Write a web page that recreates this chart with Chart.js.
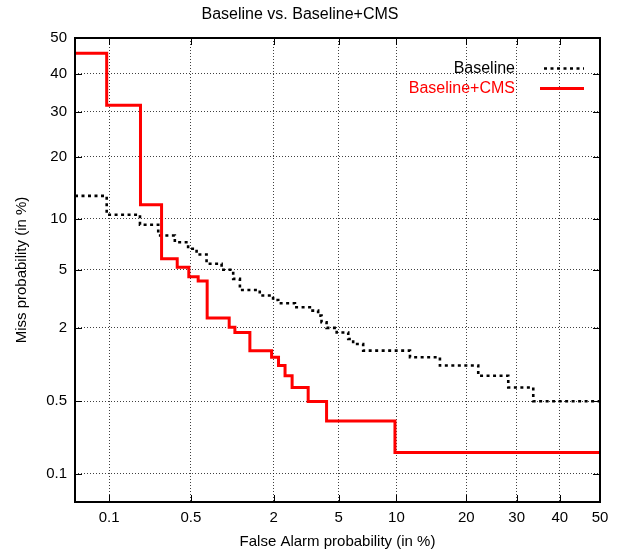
<!DOCTYPE html>
<html><head><meta charset="utf-8">
<script src="https://cdn.jsdelivr.net/npm/chart.js@4/dist/chart.umd.min.js"></script>
<style>html,body{margin:0;padding:0;background:#fff}#wrap{width:617px;height:554px}</style>
</head><body><div id="wrap"><canvas id="c" width="617" height="554"></canvas></div>
<script>
const chartTitle = 'Baseline vs. Baseline+CMS';
const xAxisTitle = 'False Alarm probability (in %)';
const yAxisTitle = 'Miss probability (in %)';
const seriesNames = ['Baseline', 'Baseline+CMS'];
const xTicks = [0.1, 0.5, 2, 5, 10, 20, 30, 40, 50];
const yTicks = [0.1, 0.5, 2, 5, 10, 20, 30, 40, 50];
const xMin = 0.0475, xMax = 50;
const yMin = 0.05, yMax = 50;

// Baseline: false alarm (%) where each step begins, miss (%) level from there on
const baselineFA = [0.0475, 0.095, 0.189, 0.271, 0.372, 0.476, 0.555, 0.663, 0.861, 1.047, 1.17, 1.61, 1.98, 2.14, 2.74, 3.39, 3.80, 3.98, 4.26, 4.87, 5.65, 6.01, 6.80, 11.58, 15.68, 22.17, 28.18, 33.72, 50];
const baselineMiss = [13.15, 10.5, 9.27, 8.07, 7.38, 6.75, 6.24, 5.47, 5.01, 4.38, 3.70, 3.39, 3.16, 3.00, 2.81, 2.66, 2.45, 2.19, 1.99, 1.84, 1.64, 1.50, 1.33, 1.18, 1.01, 0.83, 0.66, 0.50, 0.50];
// Baseline+CMS
const cmsFA = [0.0475, 0.095, 0.191, 0.289, 0.389, 0.482, 0.571, 0.670, 0.979, 1.077, 1.376, 1.935, 2.15, 2.37, 2.63, 3.31, 4.26, 9.84, 50];
const cmsMiss = [45.67, 31.7, 11.86, 5.87, 5.2, 4.52, 4.24, 2.35, 2.01, 1.84, 1.33, 1.18, 1.01, 0.83, 0.66, 0.497, 0.331, 0.164, 0.164];

function probit(p){
  const a=[-3.969683028665376e+01,2.209460984245205e+02,-2.759285104469687e+02,1.383577518672690e+02,-3.066479806614716e+01,2.506628277459239e+00];
  const b=[-5.447609879822406e+01,1.615858368580409e+02,-1.556989798598866e+02,6.680131188771972e+01,-1.328068155288572e+01];
  const c=[-7.784894002430293e-03,-3.223964580411365e-01,-2.400758277161838e+00,-2.549732539343734e+00,4.374664141464968e+00,2.938163982698783e+00];
  const d=[7.784695709041462e-03,3.224671290700398e-01,2.445134137142996e+00,3.754408661907416e+00];
  const pl=0.02425, ph=1-pl; let q,r;
  if(p<pl){q=Math.sqrt(-2*Math.log(p));return (((((c[0]*q+c[1])*q+c[2])*q+c[3])*q+c[4])*q+c[5])/((((d[0]*q+d[1])*q+d[2])*q+d[3])*q+1);}
  if(p<=ph){q=p-0.5;r=q*q;return (((((a[0]*r+a[1])*r+a[2])*r+a[3])*r+a[4])*r+a[5])*q/(((((b[0]*r+b[1])*r+b[2])*r+b[3])*r+b[4])*r+1);}
  q=Math.sqrt(-2*Math.log(1-p));return -(((((c[0]*q+c[1])*q+c[2])*q+c[3])*q+c[4])*q+c[5])/((((d[0]*q+d[1])*q+d[2])*q+d[3])*q+1);
}
function Phi(z){
  const t=1/(1+0.3275911*Math.abs(z)/Math.SQRT2);
  const y=1-(((((1.061405429*t-1.453152027)*t)+1.421413741)*t-0.284496736)*t+0.254829592)*t*Math.exp(-z*z/2);
  return z>=0?0.5*(1+y):0.5*(1-y);
}

class ProbitScale extends Chart.Scale {
  determineDataLimits(){ this.min = this.options.min; this.max = this.options.max; }
  buildTicks(){ return this.options.tickValues.map(v=>({value:v})); }
  getLabelForValue(v){ return String(v); }
  configure(){ super.configure(); this._zMin = probit(this.min/100); this._zMax = probit(this.max/100); }
  getPixelForValue(v){ const z = probit(v/100); return this.getPixelForDecimal((z-this._zMin)/(this._zMax-this._zMin)); }
  getValueForPixel(px){ const d=this.getDecimalForPixel(px); return 100*Phi(this._zMin + d*(this._zMax-this._zMin)); }
  getPixelForTick(i){ const t=this.ticks; return (i<0||i>=t.length)?NaN:this.getPixelForValue(t[i].value); }
}
ProbitScale.id='probit';
ProbitScale.defaults={};
Chart.register(ProbitScale);

const FONT = '"Liberation Sans", Arial, sans-serif';

const framePlugin = {
  id:'frame',
  afterDatasetsDraw(chart){
    const ctx=chart.ctx, a=chart.chartArea, xs=chart.scales.x, ys=chart.scales.y;
    ctx.save();
    ctx.strokeStyle='#000'; ctx.lineWidth=1; ctx.setLineDash([]);
    ctx.beginPath();
    xs.ticks.forEach(t=>{ const px=Math.round(xs.getPixelForValue(t.value))+0.5;
      ctx.moveTo(px,a.bottom); ctx.lineTo(px,a.bottom-7); ctx.moveTo(px,a.top); ctx.lineTo(px,a.top+7); });
    ys.ticks.forEach(t=>{ const py=Math.round(ys.getPixelForValue(t.value))+0.5;
      ctx.moveTo(a.left,py); ctx.lineTo(a.left+7,py); ctx.moveTo(a.right,py); ctx.lineTo(a.right-7,py); });
    ctx.stroke();
    ctx.lineWidth=2;
    ctx.strokeRect(a.left,a.top,a.right-a.left,a.bottom-a.top);
    // legend
    ctx.font='16px '+FONT; ctx.textAlign='right'; ctx.textBaseline='middle';
    chart.data.datasets.forEach((ds,i)=>{
      const y=a.top+30+i*20;
      ctx.fillStyle=ds.legendTextColor; ctx.fillText(ds.label,a.right-85,y+1);
      ctx.strokeStyle=ds.borderColor; ctx.lineWidth=ds.borderWidth; ctx.setLineDash(ds.borderDash||[]);
      ctx.beginPath(); ctx.moveTo(a.right-(i===0?56:60),y+0.5); ctx.lineTo(a.right-16,y+0.5); ctx.stroke();
    });
    ctx.restore();
  }
};

const gridCommon = { color:'rgba(0,0,0,0.75)', lineWidth:1, drawTicks:false };
new Chart(document.getElementById('c'), {
  type:'line',
  data:{ datasets:[
    { label:seriesNames[0], data:baselineFA.map((x,i)=>({x, y:baselineMiss[i]})), borderColor:'#000', legendTextColor:'#000',
      borderWidth:2.6, borderDash:[3,3.5], stepped:true, pointRadius:0, fill:false, order:1, borderCapStyle:'butt' },
    { label:seriesNames[1], data:cmsFA.map((x,i)=>({x, y:cmsMiss[i]})), borderColor:'#ff0000', legendTextColor:'#ff0000',
      borderWidth:3, stepped:true, pointRadius:0, fill:false, order:0, borderJoinStyle:'miter' }
  ]},
  options:{
    responsive:false, animation:false, devicePixelRatio:1,
    layout:{ padding:{ left:0, right:17, top:0, bottom:0 } },
    plugins:{
      legend:{ display:false }, tooltip:{ enabled:false },
      title:{ display:true, text:chartTitle, color:'#000', font:{ family:FONT, size:16, weight:'normal' }, padding:{ top:4.5, bottom:14.3 } }
    },
    scales:{
      x:{ type:'probit', position:'bottom', min:xMin, max:xMax, tickValues:xTicks,
        grid:gridCommon, border:{ display:false, dash:[1,2] },
        ticks:{ autoSkip:false, maxRotation:0, color:'#000', padding:7, font:{ family:FONT, size:15 } },
        title:{ display:true, text:xAxisTitle, color:'#000', font:{ family:FONT, size:15 }, padding:{ top:0, bottom:3 } },
        afterFit(s){ s.height=52; } },
      y:{ type:'probit', position:'left', min:yMin, max:yMax, tickValues:yTicks,
        grid:gridCommon, border:{ display:false, dash:[1,2] },
        ticks:{ autoSkip:false, color:'#000', padding:8, font:{ family:FONT, size:15 } },
        title:{ display:true, text:yAxisTitle, color:'#000', font:{ family:FONT, size:15 }, padding:{ top:13, bottom:0 } },
        afterFit(s){ s.width=75; } }
    }
  },
  plugins:[framePlugin]
});
</script>
</body></html>
